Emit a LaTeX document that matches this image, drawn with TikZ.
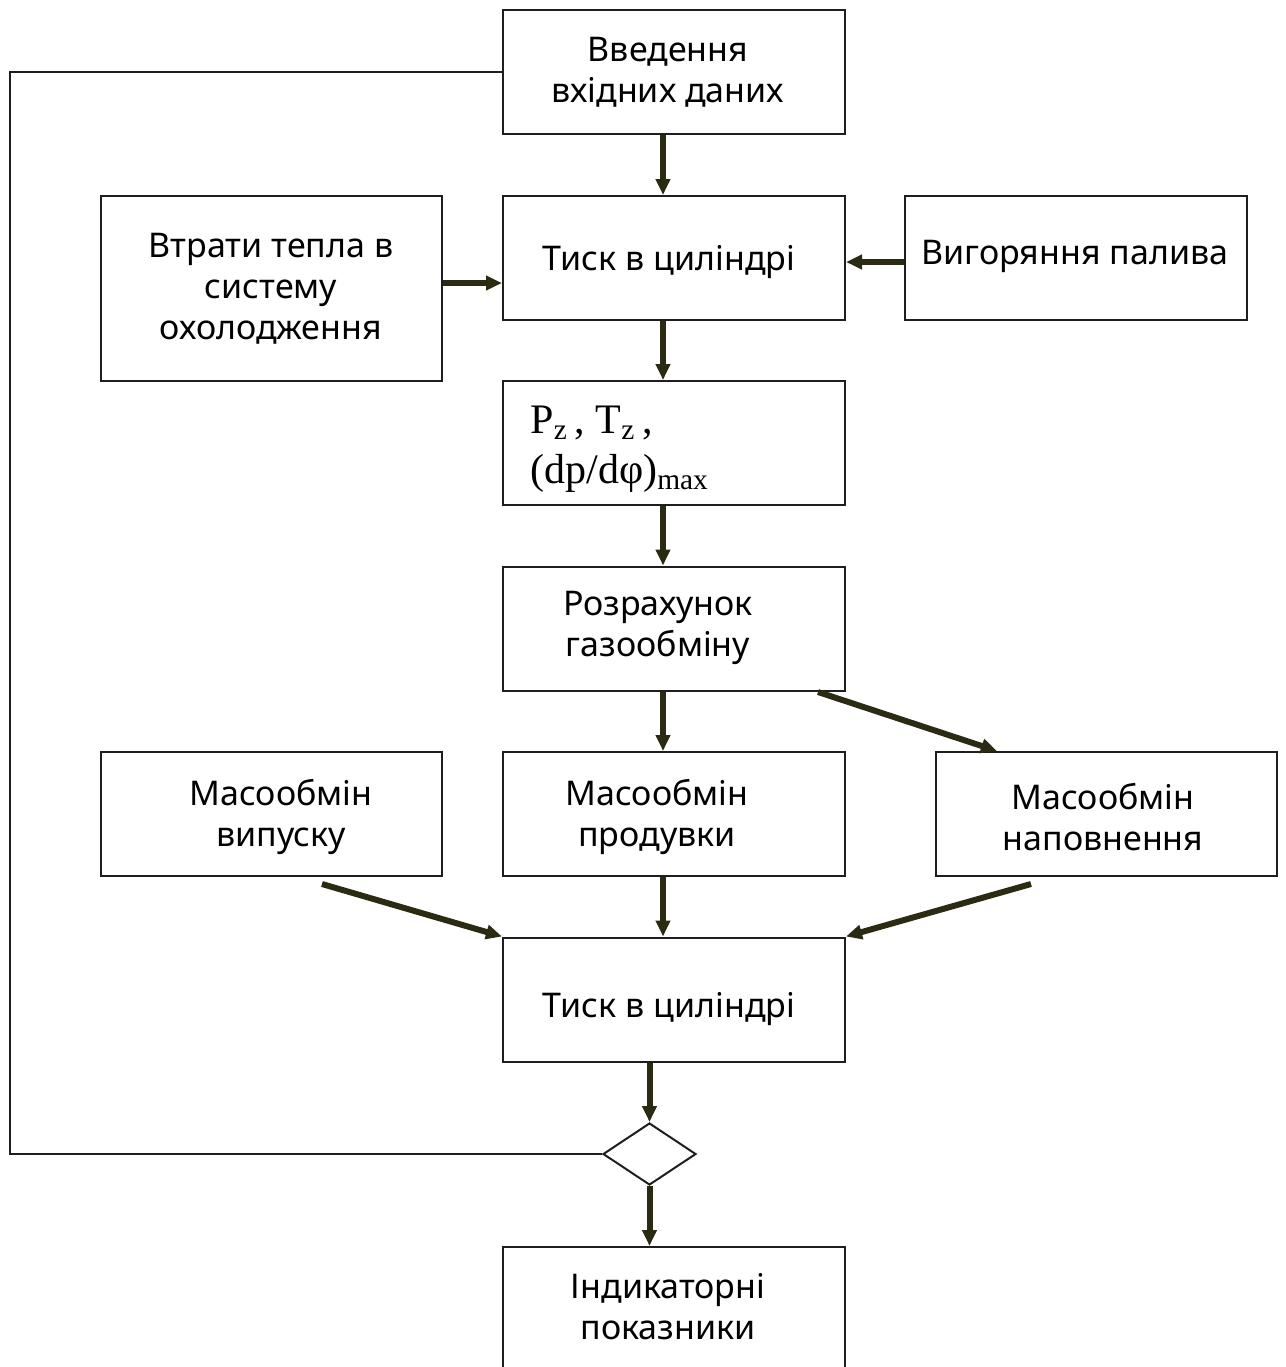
\documentclass[tikz,border=0pt]{standalone}
\usepackage{fontspec}
\setmainfont{Noto Sans}
\newfontfamily\pzfont{Liberation Serif}
\usetikzlibrary{arrows.meta,shapes.geometric}
\definecolor{arrowc}{HTML}{2B2A12}
\definecolor{linec}{HTML}{1E1E1E}
\begin{document}
\begin{tikzpicture}[x=0.5pt,y=-0.5pt,
  box/.style={draw=linec, line width=1pt, minimum width=171pt, minimum height=62pt, inner sep=0pt},
  lbl/.style={font=\fontsize{17}{20.5}\selectfont, align=center, inner sep=0pt, text=black},
  pz/.style={font=\pzfont\fontsize{21}{25}\selectfont, inner sep=0pt, anchor=base west},
  flow/.style={draw=arrowc, line width=3pt, -{Triangle[length=8pt,width=7pt]}},
  fb/.style={draw=linec, line width=1pt}]
\path[use as bounding box] (0,0) rectangle (1286,1367);
\clip (0,0) rectangle (1286,1367);
% boxes
\node[box] (A) at (674,72) {};
\node[box] (B) at (674,258) {};
\node[box, minimum width=170.5pt, minimum height=92.5pt] (H) at (271.5,288.5) {};
\node[box] (F) at (1076,258) {};
\node[box] (C) at (674,443) {};
\node[box] (D) at (674,628.5) {};
\node[box, minimum width=170.5pt] (M1) at (271.5,814) {};
\node[box] (M2) at (674,814) {};
\node[box, minimum width=170.5pt] (M3) at (1106.5,814) {};
\node[box] (E) at (674,999.5) {};
\node[draw=linec, line width=1pt, diamond, minimum width=46.5pt, minimum height=31pt, inner sep=0pt] (dia) at (649.5,1154) {};
\node[box, minimum height=72pt] (I) at (674,1319) {};
% texts
\node[lbl] (tA) at (668,72) {Введення\\вхідних даних};
\node[lbl] (tB) at (669,262) {Тиск в циліндрі};
\node[lbl] (tH) at (271,289) {Втрати тепла в\\систему\\охолодження};
\node[lbl] (tF) at (1075,256) {Вигоряння палива};
\node[pz] (pz1) at (530,433) {P\textsubscript{z}\,, T\textsubscript{z}\,,};
\node[pz] (pz2) at (530,483) {(dp/dφ)\textsubscript{max}};
\node[lbl] (tD) at (658,628) {Розрахунок\\газообміну};
\node[lbl] (tM1) at (281,817) {Масообмін\\випуску};
\node[lbl] (tM2) at (657,817) {Масообмін\\продувки};
\node[lbl] (tM3) at (1103,817) {Масообмін\\наповнення};
\node[lbl] (tE) at (669,1009) {Тиск в циліндрі};
\node[lbl] (tI) at (668,1307) {Індикаторні\\показники};
% helper coordinates
\coordinate (vx) at (663,0);
\coordinate (hy) at (0,283);
\coordinate (fy) at (0,262);
\coordinate (s2) at (818,692);
\coordinate (x997) at (997,0);
\coordinate (s1) at (322,884);
\coordinate (s3) at (1031,884);
\coordinate (fbx) at (10,600);
% arrows
\draw[flow] (A.south -| vx) -- (B.north -| vx);
\draw[flow] (H.east |- hy) -- (B.west |- hy);
\draw[flow] (F.west |- fy) -- (B.east |- fy);
\draw[flow] (B.south -| vx) -- (C.north -| vx);
\draw[flow] (C.south -| vx) -- (D.north -| vx);
\draw[flow] (D.south -| vx) -- (M2.north -| vx);
\draw[flow] (s2) -- (M3.north -| x997);
\draw[flow] (M2.south -| vx) -- (E.north -| vx);
\draw[flow] (s1) -- (E.north west);
\draw[flow] (s3) -- (E.north east);
\draw[flow] (E.south -| dia) -- (dia.north);
\draw[flow] (dia.south) -- (I.north -| dia);
% feedback line
\draw[fb] (A.west) -- (A.west -| fbx) -- (fbx |- dia.west) -- (dia.west);
\end{tikzpicture}
\end{document}
